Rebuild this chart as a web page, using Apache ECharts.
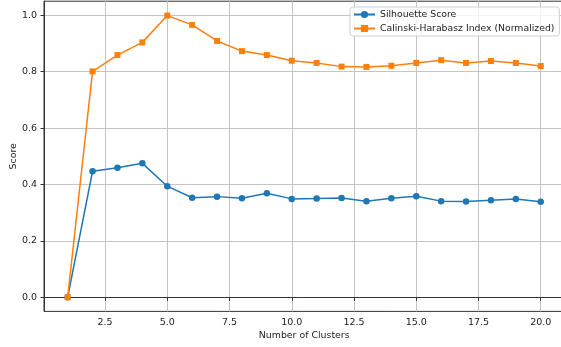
<!DOCTYPE html>
<html><head><meta charset="utf-8">
<script src="https://cdn.jsdelivr.net/npm/echarts@6/dist/echarts.min.js"></script>
<style>html,body{margin:0;padding:0;background:#fff}#c{width:561px;height:347px}</style>
</head><body><div id="c"></div>
<script>
const clusters = [1,2,3,4,5,6,7,8,9,10,11,12,13,14,15,16,17,18,19,20];
const silhouette = [0.0,0.447,0.459,0.475,0.394,0.353,0.357,0.351,0.369,0.349,0.350,0.352,0.341,0.351,0.358,0.341,0.340,0.344,0.349,0.339];
const calinski = [0.0,0.801,0.859,0.904,0.999,0.966,0.909,0.873,0.859,0.839,0.831,0.818,0.817,0.821,0.831,0.841,0.831,0.838,0.831,0.820];
const xTicks = [2.5,5,7.5,10,12.5,15,17.5,20];
const yTicks = [0,0.2,0.4,0.6,0.8,1.0];
const seriesNames = ['Silhouette Score','Calinski-Harabasz Index (Normalized)'];

const font = 'DejaVu Sans';
const txt = '#222';
const chart = echarts.init(document.getElementById('c'), null, {renderer:'canvas'});
const pair = arr => clusters.map((k,i)=>[k,arr[i]]);
chart.setOption({
  animation:false,
  backgroundColor:'#fff',
  textStyle:{fontFamily:font},
  grid:{left:44, right:-3.4, top:1.2, bottom:35.6, show:true, borderColor:'#333', borderWidth:1, containLabel:false, outerBoundsMode:'none'},
  legend:{
    orient:'vertical', left:350, top:7,
    padding:[3,5,3,3], itemGap:5, itemWidth:21, itemHeight:9,
    backgroundColor:'rgba(255,255,255,0.8)', borderColor:'#d0d0d0', borderWidth:1, borderRadius:3,
    textStyle:{fontFamily:font, fontSize:9.3, color:txt},
    data:seriesNames
  },
  xAxis:{
    type:'value', min:0.05, max:20.95,
    name:'Number of Clusters', nameLocation:'middle', nameGap:20, nameMoveOverlap:false,
    nameTextStyle:{fontFamily:font, fontSize:9.4, color:txt},
    axisLine:{show:true, lineStyle:{color:'#333', width:1}},
    axisTick:{show:true, inside:false, length:3.5, customValues:xTicks, lineStyle:{color:'#333', width:1}},
    axisLabel:{customValues:xTicks, margin:6.5, fontFamily:font, fontSize:9.5, color:txt, formatter:v=>v.toFixed(1)},
    splitLine:{show:true, lineStyle:{color:'#c4c4c4', width:1}}
  },
  yAxis:{
    type:'value', min:-0.05, max:1.05,
    name:'Score', nameLocation:'middle', nameGap:26, nameRotate:90, nameMoveOverlap:false,
    nameTextStyle:{fontFamily:font, fontSize:9.4, color:txt},
    axisLine:{show:true, lineStyle:{color:'#333', width:1}},
    axisTick:{show:true, inside:false, length:3.5, customValues:yTicks, lineStyle:{color:'#333', width:1}},
    axisLabel:{customValues:yTicks, margin:7, fontFamily:font, fontSize:9.5, color:txt, formatter:v=>v.toFixed(1)},
    splitLine:{show:true, lineStyle:{color:'#c4c4c4', width:1}}
  },
  series:[
    {name:seriesNames[0], type:'line', data:pair(silhouette), symbol:'circle', symbolSize:6.5,
     itemStyle:{color:'#1f77b4'}, lineStyle:{color:'#1f77b4', width:1.5}, z:3},
    {name:seriesNames[1], type:'line', data:pair(calinski), symbol:'rect', symbolSize:6,
     itemStyle:{color:'#ff7f0e'}, lineStyle:{color:'#ff7f0e', width:1.5}, z:4}
  ]
});
</script></body></html>
